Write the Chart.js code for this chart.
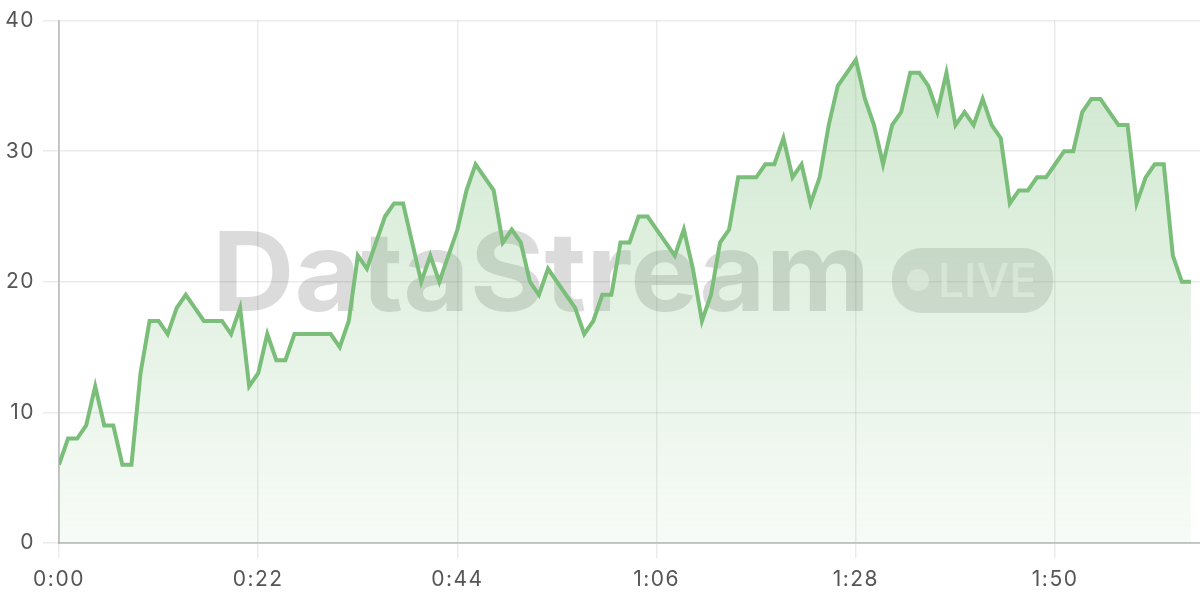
<!DOCTYPE html>
<html>
<head>
<meta charset="utf-8">
<script src="https://cdn.jsdelivr.net/npm/chart.js@4.4.1/dist/chart.umd.min.js"></script>
<style>
  html, body { margin: 0; padding: 0; background: #fff; }
  #wrap { width: 1200px; height: 600px; }
</style>
</head>
<body>
<div id="wrap"><canvas id="chart"></canvas></div>
<script>
// seconds since start, one sample per second
const seconds = [];
for (let s = 0; s <= 125; s++) seconds.push(s);

const values = [
  6, 8, 8, 9, 12, 9, 9, 6, 6, 13,
  17, 17, 16, 18, 19, 18, 17, 17, 17, 16,
  18, 12, 13, 16, 14, 14, 16, 16, 16, 16,
  16, 15, 17, 22, 21, 23, 25, 26, 26, 23,
  20, 22, 20, 22, 24, 27, 29, 28, 27, 23,
  24, 23, 20, 19, 21, 20, 19, 18, 16, 17,
  19, 19, 23, 23, 25, 25, 24, 23, 22, 24,
  21, 17, 19, 23, 24, 28, 28, 28, 29, 29,
  31, 28, 29, 26, 28, 32, 35, 36, 37, 34,
  32, 29, 32, 33, 36, 36, 35, 33, 36, 32,
  33, 32, 34, 32, 31, 26, 27, 27, 28, 28,
  29, 30, 30, 33, 34, 34, 33, 32, 32, 26,
  28, 29, 29, 22, 20, 20
];

const yTicks = [0, 10, 20, 30, 40];
const watermark = 'DataStream';
const badge = 'LIVE';

const lineColor = 'rgb(122, 190, 122)';
const tickFont = { family: 'Inter, "Noto Sans", sans-serif', size: 21 };

function fmtTime(v) {
  const m = Math.floor(v / 60);
  const s = v % 60;
  return m + ':' + String(s).padStart(2, '0');
}

// wider tick text like the original
const spacingPlugin = {
  id: 'spacing',
  beforeDraw(chart) { chart.ctx.letterSpacing = '1.5px'; }
};

const watermarkPlugin = {
  id: 'watermark',
  beforeDatasetsDraw(chart) {
    const ctx = chart.ctx;
    ctx.save();
    ctx.letterSpacing = '0px';
    // big word
    ctx.font = 'bold 110px Inter, "Noto Sans", sans-serif';
    ctx.textBaseline = 'alphabetic';
    ctx.fillStyle = 'rgba(0, 0, 0, 0.14)';
    const w = ctx.measureText(watermark).width;
    const targetW = 658;
    ctx.translate(212, 311);
    ctx.scale(targetW / w, 1);
    ctx.fillText(watermark, 0, 0);
    ctx.restore();

    // live badge
    ctx.save();
    ctx.letterSpacing = '0px';
    ctx.fillStyle = 'rgba(0, 0, 0, 0.12)';
    ctx.beginPath();
    ctx.roundRect(892, 248, 161, 65, 30);
    ctx.fill();
    ctx.fillStyle = 'rgba(255, 255, 255, 0.55)';
    ctx.beginPath();
    ctx.arc(918, 280, 11, 0, Math.PI * 2);
    ctx.fill();
    ctx.font = '500 46px Inter, "Noto Sans", sans-serif';
    ctx.textBaseline = 'alphabetic';
    ctx.fillText(badge, 938, 297);
    ctx.restore();
  }
};

const ctx = document.getElementById('chart').getContext('2d');
new Chart(ctx, {
  type: 'line',
  data: {
    datasets: [{
      data: values.map((v, i) => ({ x: seconds[i], y: v })),
      borderColor: lineColor,
      borderWidth: 4,
      pointRadius: 0,
      tension: 0,
      fill: 'origin',
      backgroundColor(context) {
        const area = context.chart.chartArea;
        if (!area) return 'rgba(122,190,122,0.2)';
        const g = context.chart.ctx.createLinearGradient(0, area.top, 0, area.bottom);
        g.addColorStop(0, 'rgba(122, 190, 122, 0.38)');
        g.addColorStop(1, 'rgba(122, 190, 122, 0.06)');
        return g;
      }
    }]
  },
  options: {
    responsive: true,
    maintainAspectRatio: false,
    animation: false,
    layout: { padding: { top: 19, right: 0, left: 0, bottom: 0 } },
    plugins: {
      legend: { display: false },
      tooltip: { enabled: false }
    },
    scales: {
      x: {
        type: 'linear',
        min: 0,
        max: 126,
        afterFit(scale) { scale.height = 57; },
        ticks: {
          stepSize: 22,
          includeBounds: false,
          color: '#555',
          font: tickFont,
          padding: 9,
          maxRotation: 0,
          callback: v => fmtTime(v)
        },
        grid: { color: 'rgba(0,0,0,0.08)', lineWidth: 1.5, tickLength: 15 },
        border: { color: 'rgba(0,0,0,0.18)', width: 2 }
      },
      y: {
        min: 0,
        max: 40,
        afterFit(scale) { scale.width = 59; },
        afterBuildTicks(scale) { scale.ticks = yTicks.map(v => ({ value: v })); },
        ticks: {
          color: '#555',
          font: tickFont,
          padding: 8
        },
        grid: { color: 'rgba(0,0,0,0.08)', lineWidth: 1.5, tickLength: 16 },
        border: { color: 'rgba(0,0,0,0.18)', width: 2 }
      }
    }
  },
  plugins: [spacingPlugin, watermarkPlugin]
});
</script>
</body>
</html>
